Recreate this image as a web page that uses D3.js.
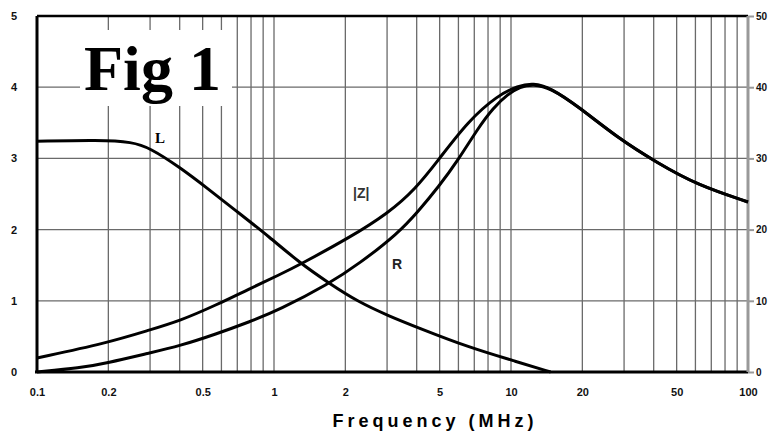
<!DOCTYPE html>
<html>
<head>
<meta charset="utf-8">
<script src="https://cdn.jsdelivr.net/npm/d3@7"></script>
<style>
  body { margin: 0; background: #fff; }
  svg text { font-family: "Liberation Sans", Arial, sans-serif; }
</style>
</head>
<body>
<svg id="chart" width="773" height="431"></svg>
<script>
'use strict';

// frequency in MHz
let lFreq = [0.1, 0.184, 0.253, 0.298, 0.399, 0.533, 0.713, 0.953, 1.27, 1.70, 2.28, 3.04, 4.07, 6.59, 10.7, 14.7];
// L (left axis)
let lVals = [3.24, 3.26, 3.23, 3.15, 2.88, 2.56, 2.23, 1.90, 1.545, 1.25, 0.98, 0.79, 0.62, 0.35, 0.14, 0.0];

let zFreq = [0.1, 0.197, 0.298, 0.399, 0.571, 0.785, 1.05, 1.30, 2.07, 3.04, 3.95, 4.94, 6.59, 8.82, 10.7, 12.4, 14.7, 19.1, 28.2, 41.5, 61.1, 100];
// |Z| (right axis, ohm)
let zVals = [1.97, 4.07, 5.9, 7.16, 9.41, 11.66, 13.62, 15.17, 18.82, 22.33, 25.7, 29.78, 35.25, 38.9, 40.17, 40.59, 39.89, 37.36, 32.87, 29.35, 26.26, 23.88];

let rFreq = [0.1, 0.152, 0.197, 0.298, 0.399, 0.571, 0.785, 1.05, 1.70, 2.28, 3.35, 4.07, 4.94, 5.99, 7.27, 8.40, 9.71, 10.9, 12.4, 14.7, 19.1, 28.2, 41.5, 61.1, 100];
// R (right axis, ohm)
let rVals = [0.0, 0.56, 1.26, 2.67, 3.65, 5.34, 7.02, 8.71, 12.36, 15.17, 19.52, 22.61, 25.98, 29.78, 34.27, 37.08, 39.04, 40.03, 40.45, 39.89, 37.36, 32.87, 29.35, 26.26, 23.88];

let xTicks = [0.1, 0.2, 0.5, 1, 2, 5, 10, 20, 50, 100];
let yLeftTicks = [0, 1, 2, 3, 4, 5];
let yRightTicks = [0, 10, 20, 30, 40, 50];

let margin = {left: 37, right: 25, top: 16, bottom: 59};
let W = 773, H = 431;

let svg = d3.select('#chart');

let x = d3.scaleLog().domain([0.1, 100]).range([margin.left, W - margin.right]);
let yL = d3.scaleLinear().domain([0, 5]).range([H - margin.bottom, margin.top]);
let yR = d3.scaleLinear().domain([0, 50]).range([H - margin.bottom, margin.top]);

// grid
let minor = [];
[0.1, 1, 10].forEach(d => { for (let k = 1; k <= 9; k++) minor.push(d * k); });
minor.push(100);

let grid = svg.append('g');
grid.selectAll('line.v').data(minor).enter().append('line')
	.attr('x1', d => x(d)).attr('x2', d => x(d))
	.attr('y1', yL(5)).attr('y2', yL(0))
	.attr('stroke', '#6a6a6a').attr('stroke-width', 1.3);
grid.selectAll('line.h').data(yLeftTicks).enter().append('line')
	.attr('x1', x(0.1)).attr('x2', x(100))
	.attr('y1', d => yL(d)).attr('y2', d => yL(d))
	.attr('stroke', '#6a6a6a').attr('stroke-width', 1.3);

// title box
svg.append('rect').attr('x', 80).attr('y', 30).attr('width', 152).attr('height', 76).attr('fill', '#fff');
svg.append('text').attr('x', 84).attr('y', 90)
	.style('font-family', '"Liberation Serif", "Times New Roman", serif')
	.attr('font-size', 64).attr('font-weight', 'bold').text('Fig 1');

// frame
svg.append('line').attr('x1', x(0.1)).attr('x2', x(0.1)).attr('y1', yL(5)).attr('y2', yL(0))
	.attr('stroke', '#000').attr('stroke-width', 3);
svg.append('line').attr('x1', x(0.1) - 2).attr('x2', x(100)).attr('y1', yL(0)).attr('y2', yL(0))
	.attr('stroke', '#000').attr('stroke-width', 3);
svg.append('line').attr('x1', x(0.1)).attr('x2', x(100)).attr('y1', yL(5)).attr('y2', yL(5))
	.attr('stroke', '#000').attr('stroke-width', 2.5);
svg.append('line').attr('x1', x(100)).attr('x2', x(100)).attr('y1', yL(5)).attr('y2', yL(0))
	.attr('stroke', '#999').attr('stroke-width', 3);

// axes
let xAxis = d3.axisBottom(x).tickValues(xTicks).tickSize(0).tickPadding(16)
	.tickFormat(d3.format('~g'));
let gx = svg.append('g').attr('transform', `translate(0,${yL(0)})`).call(xAxis);
let yAxisL = d3.axisLeft(yL).tickValues(yLeftTicks).tickSize(0).tickPadding(20)
	.tickFormat(d3.format('d'));
let gy = svg.append('g').attr('transform', `translate(${x(0.1)},0)`).call(yAxisL);
let yAxisR = d3.axisRight(yR).tickValues(yRightTicks).tickSize(6).tickPadding(2);
let gr = svg.append('g').attr('transform', `translate(${x(100)},0)`).call(yAxisR);

[gx, gy, gr].forEach(g => {
	g.select('.domain').remove();
	g.selectAll('text').attr('font-size', 11).attr('font-weight', 'bold').attr('fill', '#111');
});
gr.selectAll('text').attr('font-size', 10);
gr.selectAll('line').attr('stroke', '#999').attr('stroke-width', 2);

svg.append('text').attr('x', 435).attr('y', 427).attr('text-anchor', 'middle')
	.attr('font-size', 18).attr('font-weight', 'bold').attr('letter-spacing', 4)
	.text('Frequency (MHz)');

// curves
let lineL = d3.line().curve(d3.curveBasis).x(d => x(d[0])).y(d => yL(d[1]));
let lineR = d3.line().curve(d3.curveBasis).x(d => x(d[0])).y(d => yR(d[1]));

svg.append('path').datum(d3.zip(lFreq, lVals)).attr('d', lineL)
	.attr('fill', 'none').attr('stroke', '#000').attr('stroke-width', 3);
svg.append('path').datum(d3.zip(zFreq, zVals)).attr('d', lineR)
	.attr('fill', 'none').attr('stroke', '#000').attr('stroke-width', 3);
svg.append('path').datum(d3.zip(rFreq, rVals)).attr('d', lineR)
	.attr('fill', 'none').attr('stroke', '#000').attr('stroke-width', 3);

// curve labels
svg.append('text').attr('x', 155).attr('y', 143).attr('font-size', 15).attr('font-weight', 'bold')
	.style('font-family', '"Liberation Serif", serif').text('L');
svg.append('text').attr('x', 353).attr('y', 198).attr('font-size', 14).attr('font-weight', 'bold').attr('fill', '#333').text('|Z|');
svg.append('text').attr('x', 392).attr('y', 269).attr('font-size', 14).attr('font-weight', 'bold').attr('fill', '#222').text('R');
</script>
</body>
</html>
